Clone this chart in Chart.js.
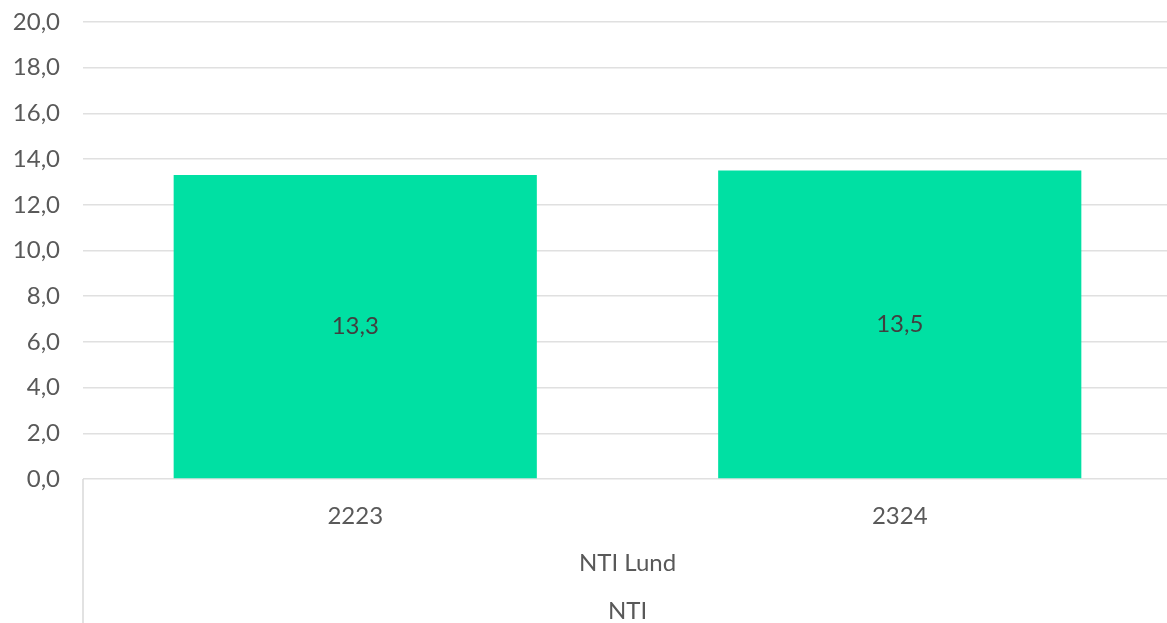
<!DOCTYPE html>
<html>
<head>
<meta charset="utf-8">
<script src="https://cdn.jsdelivr.net/npm/chart.js@4/dist/chart.umd.min.js"></script>
<style>
  html, body { margin: 0; padding: 0; background: #ffffff; overflow: hidden; }
  #wrap { width: 1172px; height: 623px; position: relative; }
</style>
</head>
<body>
<div id="wrap"><canvas id="c"></canvas></div>
<script>
const categories = ['2223', '2324'];
const groupLevel1 = ['NTI Lund'];
const groupLevel2 = ['NTI'];
const values = [13.3, 13.5];
const yMin = 0, yMax = 20, yStep = 2;

const FONT = 'Lato, "Liberation Sans", sans-serif';
const fmt = v => v.toFixed(1).replace('.', ',');

const barLabels = {
  id: 'barLabels',
  afterDatasetsDraw(chart) {
    const ctx = chart.ctx;
    const meta = chart.getDatasetMeta(0);
    ctx.save();
    ctx.font = '24px ' + FONT;
    ctx.fillStyle = '#404040';
    ctx.textAlign = 'center';
    ctx.textBaseline = 'middle';
    meta.data.forEach((bar, i) => {
      const p = bar.getProps(['x', 'y', 'base'], true);
      ctx.fillText(fmt(chart.data.datasets[0].data[i]), p.x, (p.y + p.base) / 2);
    });
    ctx.restore();
  }
};

const groupLine = {
  id: 'groupLine',
  afterDraw(chart) {
    const ctx = chart.ctx;
    const a = chart.chartArea;
    ctx.save();
    ctx.strokeStyle = '#d9d9d9';
    ctx.lineWidth = 1.5;
    ctx.beginPath();
    ctx.moveTo(a.left, a.bottom);
    ctx.lineTo(a.left, chart.height);
    ctx.stroke();
    ctx.restore();
  }
};

const tickFont = { family: FONT, size: 24 };

new Chart(document.getElementById('c'), {
  type: 'bar',
  data: {
    labels: categories,
    datasets: [{
      data: values,
      backgroundColor: '#00E0A3',
      borderWidth: 0,
      barPercentage: 0.667,
      categoryPercentage: 1.0
    }]
  },
  options: {
    responsive: true,
    maintainAspectRatio: false,
    animation: false,
    layout: { padding: { top: 22, right: 0, bottom: 0, left: 0 } },
    plugins: { legend: { display: false }, tooltip: { enabled: false } },
    scales: {
      x: {
        position: 'bottom',
        grid: { display: false },
        border: { display: false },
        ticks: { font: tickFont, color: '#595959', padding: 15, maxRotation: 0 },
        afterFit(s) { s.height = 51; }
      },
      x2: {
        type: 'category',
        position: 'bottom',
        labels: groupLevel1,
        grid: { display: false },
        border: { display: false },
        ticks: { font: tickFont, color: '#595959', padding: 11, maxRotation: 0 },
        afterFit(s) { s.height = 47; }
      },
      x3: {
        type: 'category',
        position: 'bottom',
        labels: groupLevel2,
        grid: { display: false },
        border: { display: false },
        ticks: { font: tickFont, color: '#595959', padding: 12, maxRotation: 0 },
        afterFit(s) { s.height = 46; }
      },
      y: {
        min: yMin,
        max: yMax,
        ticks: {
          stepSize: yStep,
          font: tickFont,
          color: '#595959',
          padding: 23,
          callback: v => fmt(v)
        },
        grid: { color: '#e0e0e0', lineWidth: 1.5, drawTicks: false },
        border: { display: false },
        afterFit(s) { s.width = 83; s.paddingTop = 0; s.paddingBottom = 0; }
      }
    }
  },
  plugins: [barLabels, groupLine]
});
</script>
</body>
</html>
